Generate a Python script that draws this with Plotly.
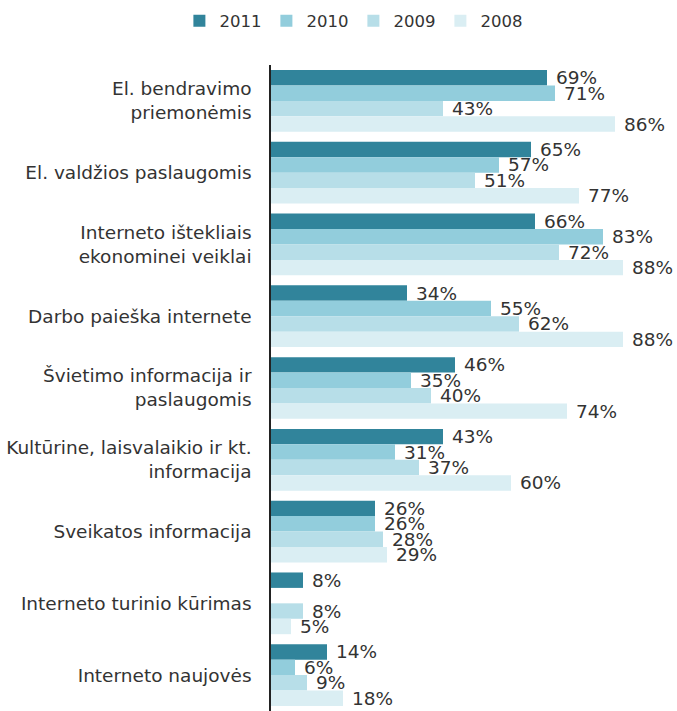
import plotly.graph_objects as go

categories = [
    "El. bendravimo<br>priemonėmis",
    "El. valdžios paslaugomis",
    "Interneto ištekliais<br>ekonominei veiklai",
    "Darbo paieška internete",
    "Švietimo informacija ir<br>paslaugomis",
    "Kultūrine, laisvalaikio ir kt.<br>informacija",
    "Sveikatos informacija",
    "Interneto turinio kūrimas",
    "Interneto naujovės",
]
v2011 = [69, 65, 66, 34, 46, 43, 26, 8, 14]
v2010 = [71, 57, 83, 55, 35, 31, 26, None, 6]
v2009 = [43, 51, 72, 62, 40, 37, 28, 8, 9]
v2008 = [86, 77, 88, 88, 74, 60, 29, 5, 18]

series = [("2011", v2011, "#31849B"), ("2010", v2010, "#92CDDC"),
          ("2009", v2009, "#B7DEE8"), ("2008", v2008, "#DAEEF3")]

FONT = "DejaVu Sans"
fig = go.Figure()
for name, vals, color in series:
    fig.add_trace(go.Bar(
        y=categories, x=vals, name=name, orientation="h",
        marker=dict(color=color, line=dict(width=0)),
        text=[("\u00a0" + f"{v}%") if v is not None else "" for v in vals],
        textposition="outside", cliponaxis=False, constraintext="none",
        textfont=dict(size=18.5, color="#333333", family=FONT),
    ))

fig.update_layout(
    width=677, height=711,
    margin=dict(l=271, r=6, t=65, b=0),
    barmode="group", bargap=0.14, bargroupgap=0,
    plot_bgcolor="white", paper_bgcolor="white",
    font=dict(family=FONT, size=18.5, color="#333333"),
    showlegend=True,
    legend=dict(orientation="h", x=0.522, xanchor="center", xref="container",
                y=0.995, yanchor="top", yref="container",
                font=dict(size=16.5, color="#333333", family=FONT),
                itemwidth=30, traceorder="normal", tracegroupgap=0),
    xaxis=dict(range=[0, 100], visible=False, showgrid=False),
    yaxis=dict(autorange="reversed", showline=True, linecolor="#222222", linewidth=1.5,
               ticks="", ticklabelstandoff=14, tickfont=dict(size=18.5, color="#333333", family=FONT),
               showgrid=False),
)
fig.write_html(
    "out.html",
    config={"displayModeBar": False},
    post_script="document.body.style.margin='0';document.body.style.overflow='hidden';",
)
